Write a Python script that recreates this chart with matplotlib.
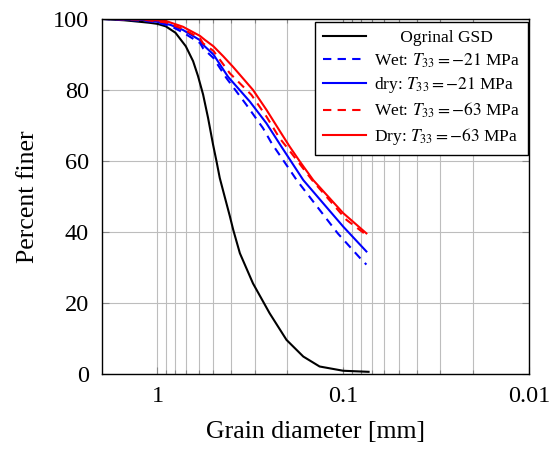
import matplotlib
matplotlib.use("Agg")
import matplotlib.pyplot as plt
from matplotlib.ticker import FixedLocator, NullFormatter

plt.rcParams['font.family'] = ['Liberation Serif', 'DejaVu Serif']
plt.rcParams['mathtext.fontset'] = 'stix'

# grain size distributions: diameter [mm] vs percent finer
d_orig = [2.0, 1.5, 1.2, 1.1, 1.0, 0.902, 0.8, 0.704, 0.643, 0.605, 0.568, 0.534, 0.502,
          0.481, 0.462, 0.434, 0.408, 0.391, 0.36, 0.306, 0.249, 0.202, 0.164, 0.134,
          0.1, 0.073]
p_orig = [100, 99.6, 99.1, 98.9, 98.6, 97.9, 96.1, 92.3, 88.1, 83.9, 78.7, 72.1, 64.6,
          59.9, 55.2, 49.8, 44.5, 40.6, 34.0, 25.5, 17.1, 9.6, 4.9, 2.1, 0.9, 0.6]

d_wet21 = [2.0, 1.2, 1.0, 0.85, 0.73, 0.59, 0.568, 0.5, 0.425, 0.332, 0.27, 0.243,
           0.194, 0.178, 0.107, 0.081, 0.075]
p_wet21 = [100, 99.5, 99.0, 98.0, 96.2, 93.2, 91.7, 89.0, 83.3, 75.8, 69.2, 65.0,
           57.5, 54.6, 39.6, 32.6, 30.8]

d_dry21 = [2.0, 1.2, 1.0, 0.85, 0.73, 0.59, 0.568, 0.5, 0.417, 0.318, 0.259, 0.215,
           0.164, 0.1, 0.075]
p_dry21 = [100, 99.7, 99.2, 98.3, 96.9, 94.0, 92.7, 90.0, 83.7, 76.7, 70.6, 64.0,
           54.6, 41.5, 34.5]

d_wet63 = [2.0, 1.2, 0.9, 0.73, 0.59, 0.568, 0.5, 0.408, 0.312, 0.259, 0.22, 0.202,
           0.147, 0.096, 0.077]
p_wet63 = [100, 99.8, 99.0, 97.2, 94.5, 93.1, 91.0, 84.7, 78.6, 72.5, 66.4, 64.0,
           54.6, 43.4, 39.6]

d_dry63 = [2.0, 1.2, 0.9, 0.73, 0.59, 0.556, 0.5, 0.443, 0.392, 0.306, 0.259, 0.22,
           0.194, 0.171, 0.145, 0.1, 0.075]
p_dry63 = [100, 99.9, 99.4, 97.8, 95.2, 94.1, 92.3, 89.5, 86.5, 80.0, 74.4, 68.5,
           64.0, 59.8, 54.6, 45.3, 39.6]

x_ticks = [1, 0.1, 0.01]
x_ticklabels = ['1', '0.1', '0.01']
y_ticks = [0, 20, 40, 60, 80, 100]

fig = plt.figure(figsize=(5.55, 4.5), dpi=100)
ax = fig.add_axes([0.183, 0.169, 0.770, 0.789])

lw = 1.5
dash = (0, (4, 3))
ax.plot(d_orig, p_orig, color='black', lw=lw, label='      Ogrinal GSD')
ax.plot(d_wet21, p_wet21, color='blue', lw=lw, ls=dash, label=r'Wet: $T_{33}=-21$ MPa')
ax.plot(d_dry21, p_dry21, color='blue', lw=lw, label=r'dry: $T_{33}=-21$ MPa')
ax.plot(d_wet63, p_wet63, color='red', lw=lw, ls=dash, label=r'Wet: $T_{33}=-63$ MPa')
ax.plot(d_dry63, p_dry63, color='red', lw=lw, label=r'Dry: $T_{33}=-63$ MPa')

ax.set_xscale('log')
ax.set_xlim(2, 0.01)
ax.set_ylim(0, 100)

ax.xaxis.set_major_locator(FixedLocator(x_ticks))
ax.set_xticklabels(x_ticklabels)
minor = [k * 0.1 for k in range(2, 10)] + [k * 0.01 for k in range(2, 10)]
ax.xaxis.set_minor_locator(FixedLocator(minor))
ax.xaxis.set_minor_formatter(NullFormatter())
ax.set_yticks(y_ticks)

ax.grid(True, which='major', color='#bdbdbd', lw=0.8)
ax.grid(True, which='minor', axis='x', color='#bdbdbd', lw=0.8)
ax.set_axisbelow(True)

ax.tick_params(which='both', direction='in', top=True, right=True,
               color='#888888', labelsize=17.5)
ax.tick_params(which='major', length=5, width=0.8, pad=9)
ax.tick_params(which='minor', length=3, width=0.8)
for s in ax.spines.values():
    s.set_linewidth(1.0)

ax.set_xlabel('Grain diameter [mm]', fontsize=18.5, labelpad=10)
ax.set_ylabel('Percent finer', fontsize=18.5, labelpad=10)

leg = ax.legend(loc='upper right', bbox_to_anchor=(0.997, 0.992), fontsize=12.5,
                frameon=True, fancybox=False, framealpha=1, edgecolor='black',
                handlelength=2.5, handletextpad=0.45, labelspacing=0.32,
                borderpad=0.45, borderaxespad=0)
leg.get_frame().set_linewidth(1.0)

fig.savefig('out.png', dpi=100)
